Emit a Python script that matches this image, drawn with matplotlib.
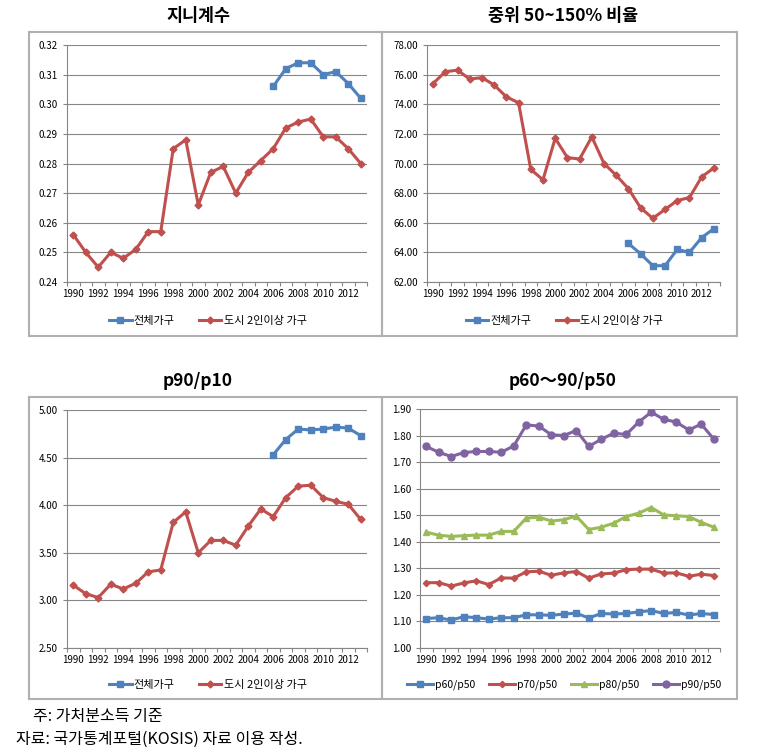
import numpy as np
import matplotlib
matplotlib.use("Agg")
import matplotlib.pyplot as plt
from matplotlib.patches import Rectangle

plt.rcParams['font.family'] = ['Noto Sans CJK KR', 'DejaVu Sans']

years = list(range(1990, 2014))
years_all = list(range(2006, 2014))
tick_years = list(range(1990, 2013, 2))

# 지니계수
gini_city = [0.256, 0.250, 0.245, 0.250, 0.248, 0.251, 0.257, 0.257, 0.285, 0.288,
             0.266, 0.277, 0.279, 0.270, 0.277, 0.281, 0.285, 0.292, 0.294, 0.295,
             0.289, 0.289, 0.285, 0.280]
gini_all = [0.306, 0.312, 0.314, 0.314, 0.310, 0.311, 0.307, 0.302]

# 중위 50~150% 비율
mid_city = [75.4, 76.2, 76.3, 75.7, 75.8, 75.3, 74.5, 74.1, 69.6, 68.9,
            71.7, 70.4, 70.3, 71.8, 70.0, 69.2, 68.3, 67.0, 66.3, 66.9,
            67.5, 67.7, 69.1, 69.7]
mid_all = [64.6, 63.9, 63.1, 63.1, 64.2, 64.0, 65.0, 65.6]

# p90/p10
p9010_city = [3.16, 3.07, 3.03, 3.17, 3.12, 3.18, 3.30, 3.32, 3.82, 3.93,
              3.50, 3.63, 3.63, 3.58, 3.78, 3.96, 3.88, 4.08, 4.20, 4.21,
              4.08, 4.04, 4.01, 3.85]
p9010_all = [4.53, 4.69, 4.80, 4.79, 4.80, 4.82, 4.81, 4.73]

# p60~90/p50
p60 = [1.111, 1.114, 1.105, 1.118, 1.114, 1.109, 1.114, 1.114, 1.125, 1.125,
       1.123, 1.128, 1.131, 1.113, 1.130, 1.128, 1.130, 1.136, 1.141, 1.130,
       1.134, 1.124, 1.130, 1.126]
p70 = [1.246, 1.246, 1.233, 1.245, 1.253, 1.239, 1.264, 1.263, 1.287, 1.289,
       1.274, 1.283, 1.288, 1.263, 1.279, 1.282, 1.295, 1.297, 1.297, 1.282,
       1.283, 1.270, 1.278, 1.273]
p80 = [1.436, 1.425, 1.420, 1.423, 1.425, 1.425, 1.439, 1.439, 1.489, 1.493,
       1.478, 1.483, 1.497, 1.446, 1.455, 1.470, 1.495, 1.508, 1.529, 1.501,
       1.498, 1.495, 1.473, 1.455]
p90 = [1.759, 1.737, 1.721, 1.736, 1.740, 1.740, 1.737, 1.761, 1.840, 1.836,
       1.803, 1.800, 1.819, 1.759, 1.786, 1.809, 1.804, 1.851, 1.888, 1.861,
       1.851, 1.821, 1.843, 1.787]

BLUE = '#4F81BD'
RED = '#C0504D'
GREEN = '#9BBB59'
PURPLE = '#8064A2'
GRID = '#868686'

W, H = 762, 752
fig = plt.figure(figsize=(W / 100, H / 100), dpi=100)


def px_axes(x0, y0, x1, y1):
    return fig.add_axes([x0 / W, 1 - y1 / H, (x1 - x0) / W, (y1 - y0) / H])


def frame(x0, y0, x1, y1):
    fig.add_artist(Rectangle((x0 / W, 1 - y1 / H), (x1 - x0) / W, (y1 - y0) / H,
                             transform=fig.transFigure, fill=False,
                             edgecolor='#B0B0B0', linewidth=1.5))


def style(ax, ylim, step):
    ax.set_xlim(1989.5, 2013.5)
    ax.set_ylim(*ylim)
    ax.set_yticks(np.arange(ylim[0], ylim[1] + step / 2, step))
    ax.yaxis.set_major_formatter(matplotlib.ticker.FormatStrFormatter('%.2f'))
    ax.set_xticks(np.arange(1989.5, 2014, 1.0))
    ax.set_xticklabels([])
    ax.set_xticks(tick_years, [str(y) for y in tick_years], minor=True)
    ax.tick_params(axis='x', which='major', length=3, color=GRID, width=0.8)
    ax.tick_params(axis='x', which='minor', length=0, labelsize=7, pad=5)
    ax.tick_params(axis='y', length=3, color=GRID, width=0.8, labelsize=7)
    ax.grid(axis='y', color=GRID, linewidth=0.8)
    ax.set_axisbelow(True)
    for s in ['top', 'right']:
        ax.spines[s].set_visible(False)
    for s in ['left', 'bottom']:
        ax.spines[s].set_color(GRID)
        ax.spines[s].set_linewidth(0.8)


def two_series(ax, all_vals, city_vals, leg_y):
    ax.plot(years_all, all_vals, color=BLUE, lw=2.2, marker='s', ms=5, label='전체가구')
    ax.plot(years, city_vals, color=RED, lw=2.2, marker='D', ms=3.5, label='도시 2인이상 가구')
    ax.legend(loc='center', bbox_to_anchor=(0.47, leg_y), ncol=2, frameon=False,
              fontsize=8, handlelength=2.0, columnspacing=2.2, handletextpad=0.2)


# frames
frame(29, 32, 382, 336)
frame(382, 32, 737, 336)
frame(29, 397, 382, 699)
frame(382, 397, 737, 699)

ax1 = px_axes(67, 45, 367, 282)
style(ax1, (0.24, 0.32), 0.01)
two_series(ax1, gini_all, gini_city, -0.165)

ax2 = px_axes(427, 45, 720, 282)
style(ax2, (62, 78), 2)
two_series(ax2, mid_all, mid_city, -0.165)

ax3 = px_axes(67, 410, 367, 648)
style(ax3, (2.5, 5.0), 0.5)
two_series(ax3, p9010_all, p9010_city, -0.155)

ax4 = px_axes(420, 409, 720, 648)
style(ax4, (1.0, 1.9), 0.1)
ax4.plot(years, p60, color=BLUE, lw=2.2, marker='s', ms=4.5, label='p60/p50')
ax4.plot(years, p70, color=RED, lw=2.2, marker='D', ms=3.2, label='p70/p50')
ax4.plot(years, p80, color=GREEN, lw=2.2, marker='^', ms=5, label='p80/p50')
ax4.plot(years, p90, color=PURPLE, lw=2.2, marker='o', ms=5, label='p90/p50')
ax4.legend(loc='center', bbox_to_anchor=(0.48, -0.155), ncol=4, frameon=False,
           fontsize=7.5, handlelength=2.5, columnspacing=1.3, handletextpad=0.2)

# titles
fig.text(198 / W, 1 - 16 / H, '지니계수', ha='center', va='center', fontsize=12.5, fontweight='bold')
fig.text(563 / W, 1 - 16 / H, '중위 50~150% 비율', ha='center', va='center', fontsize=12.5, fontweight='bold')
fig.text(198 / W, 1 - 381 / H, 'p90/p10', ha='center', va='center', fontsize=12.5, fontweight='bold')
fig.text(563 / W, 1 - 381 / H, 'p60～90/p50', ha='center', va='center', fontsize=12.5, fontweight='bold')

# notes
fig.text(33 / W, 1 - 716 / H, '주: 가처분소득 기준', ha='left', va='center', fontsize=11.5)
fig.text(16 / W, 1 - 739 / H, '자료: 국가통계포털(KOSIS) 자료 이용 작성.', ha='left', va='center', fontsize=11.5)

plt.savefig('out.png', dpi=100)
